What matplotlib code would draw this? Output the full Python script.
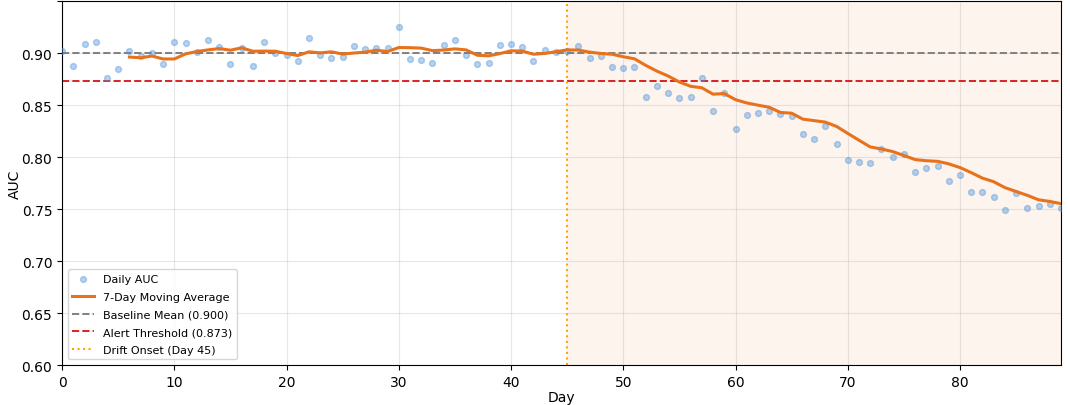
import numpy as np
import pandas as pd
import matplotlib
matplotlib.use("Agg")
import matplotlib.pyplot as plt

days = list(range(90))
auc = [
    0.902, 0.888, 0.909, 0.911, 0.876, 0.885, 0.902, 0.897, 0.900, 0.889,
    0.911, 0.910, 0.901, 0.913, 0.906, 0.889, 0.905, 0.888, 0.911, 0.900,
    0.898, 0.892, 0.914, 0.898, 0.895, 0.896, 0.907, 0.904, 0.905, 0.905,
    0.925, 0.894, 0.893, 0.890, 0.908, 0.913, 0.898, 0.889, 0.890, 0.908,
    0.909, 0.906, 0.892, 0.903, 0.901, 0.902, 0.907, 0.895, 0.897, 0.887,
    0.886, 0.887, 0.858, 0.868, 0.862, 0.857, 0.858, 0.876, 0.844, 0.862,
    0.827, 0.840, 0.842, 0.844, 0.841, 0.839, 0.822, 0.817, 0.830, 0.813,
    0.797, 0.795, 0.794, 0.808, 0.800, 0.803, 0.786, 0.789, 0.791, 0.777,
    0.783, 0.766, 0.766, 0.762, 0.749, 0.765, 0.751, 0.753, 0.755, 0.751,
]
baseline = 0.900
threshold = 0.873
drift_day = 45

df = pd.DataFrame({"day": days, "auc": auc})
df["ma7"] = df["auc"].rolling(7).mean()

fig, ax = plt.subplots(figsize=(10.7, 4.06), dpi=100)
fig.subplots_adjust(left=0.058, right=0.9916, top=0.995, bottom=0.0985)

ax.axvspan(drift_day, df["day"].max(), color="#e8711c", alpha=0.075, lw=0)
ax.scatter(df["day"], df["auc"], s=18, color="#4a90d9", alpha=0.4,
           label="Daily AUC", zorder=3)
ax.plot(df["day"], df["ma7"], color="#e8711c", linewidth=2.2,
        label="7-Day Moving Average", zorder=4)
ax.axhline(baseline, color="gray", linestyle="--", linewidth=1.4,
           label=f"Baseline Mean ({baseline:.3f})")
ax.axhline(threshold, color="#dc2222", linestyle="--", linewidth=1.4,
           label=f"Alert Threshold ({threshold:.3f})")
ax.axvline(drift_day, color="orange", linestyle=":", linewidth=1.5,
           label=f"Drift Onset (Day {drift_day})")

ax.set_xlim(0, 89)
ax.set_ylim(0.60, 0.95)
yt = np.round(np.arange(0.60, 0.951, 0.05), 2)
ax.set_yticks(yt)
ax.set_yticklabels([f"{v:.2f}" for v in yt[:-1]] + [""])
ax.set_xlabel("Day", labelpad=1)
ax.set_ylabel("AUC", labelpad=0)
ax.grid(True, alpha=0.3)
ax.legend(loc="lower left", fontsize=8, labelspacing=0.7)

plt.savefig("out.png")
